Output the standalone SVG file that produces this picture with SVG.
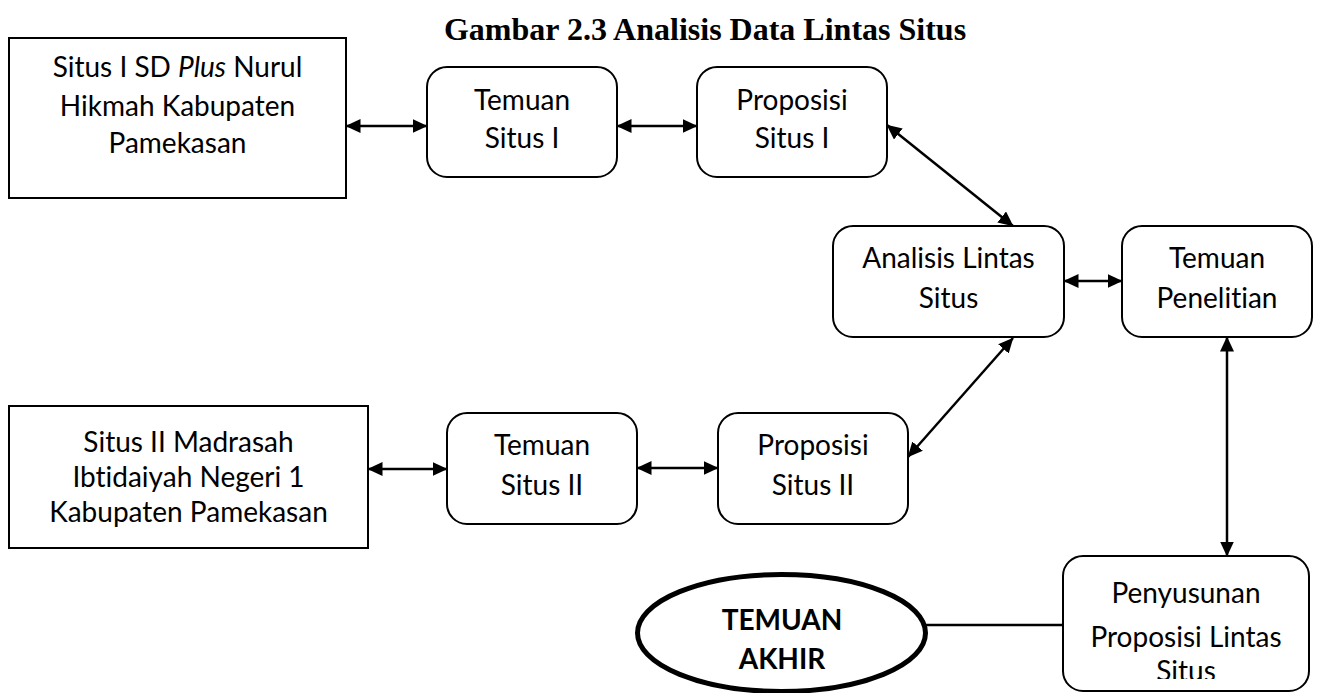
<svg xmlns="http://www.w3.org/2000/svg" width="1320" height="693" viewBox="0 0 1320 693">
<style>
.box{fill:#fff;stroke:#000;stroke-width:2}
.t{font-family:Lato,"Liberation Sans",sans-serif;font-size:28px;fill:#000;text-anchor:middle;font-variant-ligatures:none}
.b{font-weight:bold}
.title{font-family:"Liberation Serif",serif;font-size:32px;font-weight:bold;fill:#000;text-anchor:middle}
.c{stroke:#000;stroke-width:2.5;fill:none}
</style>
<defs>
<marker id="ah" viewBox="0 0 15 14" refX="14.5" refY="7" markerWidth="15" markerHeight="14" markerUnits="userSpaceOnUse" orient="auto-start-reverse">
<path d="M0,0 L15,7 L0,14 z" fill="#000"/>
</marker>
<clipPath id="clipP"><rect x="1063" y="556" width="246" height="123"/></clipPath>
</defs>
<rect width="1320" height="693" fill="#fff"/>
<text class="title" x="705" y="40">Gambar 2.3 Analisis Data Lintas Situs</text>
<g id="connectors">
<line class="c" x1="346" y1="126" x2="427" y2="126" marker-start="url(#ah)" marker-end="url(#ah)"/>
<line class="c" x1="617" y1="126" x2="697" y2="126" marker-start="url(#ah)" marker-end="url(#ah)"/>
<line class="c" x1="887" y1="125" x2="1013" y2="226" marker-start="url(#ah)" marker-end="url(#ah)"/>
<line class="c" x1="1064" y1="281" x2="1122" y2="281" marker-start="url(#ah)" marker-end="url(#ah)"/>
<line class="c" x1="1013" y1="338" x2="908" y2="457" marker-start="url(#ah)" marker-end="url(#ah)"/>
<line class="c" x1="1227" y1="337" x2="1227" y2="556" marker-start="url(#ah)" marker-end="url(#ah)"/>
<line class="c" x1="368" y1="469" x2="447" y2="469" marker-start="url(#ah)" marker-end="url(#ah)"/>
<line class="c" x1="637" y1="468" x2="718" y2="468" marker-start="url(#ah)" marker-end="url(#ah)"/>
<line class="c" x1="926" y1="625" x2="1063" y2="625"/>
</g>
<g id="situs1">
<rect class="box" x="9" y="38" width="337" height="160"/>
<text class="t" x="177.5" y="77">Situs I SD <tspan font-style="italic">Plus</tspan> Nurul</text>
<text class="t" x="177.5" y="116">Hikmah Kabupaten</text>
<text class="t" x="177.5" y="153">Pamekasan</text>
</g>
<g id="temuan1">
<rect class="box" x="427" y="67" width="190" height="110" rx="20"/>
<text class="t" x="522" y="110">Temuan</text>
<text class="t" x="522" y="148">Situs I</text>
</g>
<g id="proposisi1">
<rect class="box" x="697" y="67" width="190" height="110" rx="20"/>
<text class="t" x="792" y="110">Proposisi</text>
<text class="t" x="792" y="148">Situs I</text>
</g>
<g id="analisis">
<rect class="box" x="833" y="226" width="231" height="111" rx="20"/>
<text class="t" x="948.5" y="268">Analisis Lintas</text>
<text class="t" x="948.5" y="308">Situs</text>
</g>
<g id="temuanPenelitian">
<rect class="box" x="1122" y="226" width="190" height="111" rx="20"/>
<text class="t" x="1217" y="268">Temuan</text>
<text class="t" x="1217" y="308">Penelitian</text>
</g>
<g id="situs2">
<rect class="box" x="9" y="406" width="359" height="142"/>
<text class="t" x="188.5" y="452">Situs II Madrasah</text>
<text class="t" x="188.5" y="487">Ibtidaiyah Negeri 1</text>
<text class="t" x="188.5" y="522">Kabupaten Pamekasan</text>
</g>
<g id="temuan2">
<rect class="box" x="447" y="413" width="190" height="111" rx="20"/>
<text class="t" x="542" y="455">Temuan</text>
<text class="t" x="542" y="495">Situs II</text>
</g>
<g id="proposisi2">
<rect class="box" x="718" y="413" width="190" height="111" rx="20"/>
<text class="t" x="813" y="455">Proposisi</text>
<text class="t" x="813" y="495">Situs II</text>
</g>
<g id="penyusunan">
<rect class="box" x="1063" y="556" width="246" height="135" rx="20"/>
<g clip-path="url(#clipP)">
<text class="t" x="1186" y="603">Penyusunan</text>
<text class="t" x="1186" y="647">Proposisi Lintas</text>
<text class="t" x="1186" y="681">Situs</text>
</g>
</g>
<g id="temuanAkhir">
<ellipse cx="781.5" cy="633" rx="144" ry="58.5" fill="#fff" stroke="#000" stroke-width="5"/>
<text class="t b" x="782" y="630">TEMUAN</text>
<text class="t b" x="782" y="669">AKHIR</text>
</g>
</svg>
